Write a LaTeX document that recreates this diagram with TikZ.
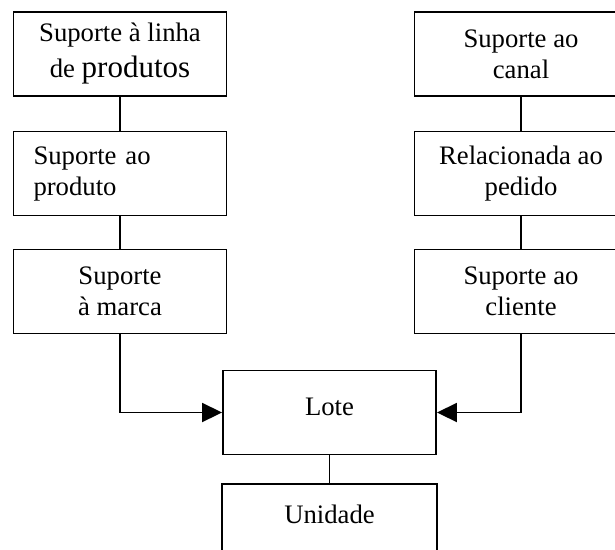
\documentclass[tikz,border=0pt]{standalone}
\usepackage{fontspec}
\setmainfont{Liberation Serif}
\usetikzlibrary{arrows.meta}
\begin{document}
\begin{tikzpicture}[x=1pt,y=-1pt,
  box/.style={draw,line width=1.9pt,minimum width=213pt,minimum height=84pt,inner sep=0pt,align=center,font=\fontsize{26.7}{31}\selectfont},
  conn/.style={line width=1.9pt},
  arr/.style={line width=1.9pt,-{Triangle[length=20pt,width=19pt]}}]
\useasboundingbox (0,0) rectangle (615,549);
\clip (0,0) rectangle (615,549);
\node[box] (l1) at (120,54) {Suporte à linha\\[5pt]de {\fontsize{31}{31}\selectfont produtos}};
\node[box,align=left,text width=173pt,inner xsep=20pt] (l2) at (120,173.5) {Suporte ao\\produto};
\node[box] (l3) at (120,291.5) {Suporte\\à marca};
\node[box] (r1) at (521,54) {Suporte ao\\canal};
\node[box] (r2) at (521,173.5) {Relacionada ao\\pedido};
\node[box] (r3) at (521,291.5) {Suporte ao\\cliente};
\node[box,text depth=12pt] (lote) at (329.5,412.5) {Lote};
\node[box,draw=none,minimum height=64pt,text depth=6pt] (un) at (329.5,517) {Unidade};
\draw[conn] (un.south west) -- (un.north west) -- (un.north east) -- (un.south east);
\draw[conn] (l1) -- (l2);
\draw[conn] (l2) -- (l3);
\draw[conn] (r1) -- (r2);
\draw[conn] (r2) -- (r3);
\draw[arr] (l3.south) |- (lote.west);
\draw[arr] (r3.south) |- (lote.east);
\draw[conn] (lote) -- (un.north);
\end{tikzpicture}
\end{document}
